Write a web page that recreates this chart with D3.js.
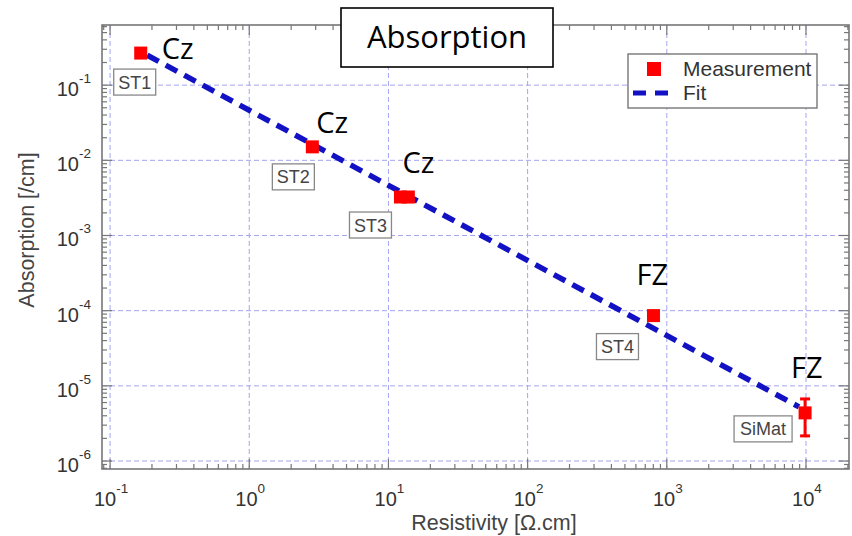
<!DOCTYPE html>
<html>
<head>
<meta charset="utf-8">
<script src="https://cdn.jsdelivr.net/npm/d3@7"></script>
<style>
  html, body { margin: 0; padding: 0; background: #fff; }
  svg { display: block; }
</style>
</head>
<body>
<div id="chart"></div>
<script>
const samples = ["ST1", "ST2", "ST3", "ST3", "ST4", "SiMat"];
const resistivity = [0.166, 2.84, 12.2, 13.9, 802, 9850];
const absorption = [0.267, 0.0151, 0.00325, 0.00325, 8.6e-5, 4.37e-6];
const errLow = [null, null, null, null, null, 2.16e-6];
const errHigh = [null, null, null, null, null, 6.7e-6];

// fit line end points
const fitX = [0.185, 8900];
const fitY = [0.25, 5.26e-6];

// annotations: sample label, growth type
const labelNames = ["ST1", "ST2", "ST3", "ST4", "SiMat"];
const labelPointIdx = [0, 1, 2, 4, 5];
const growth = ["Cz", "Cz", "Cz", "FZ", "FZ"];

const xTickExp = [-1, 0, 1, 2, 3, 4];
const yTickExp = [-6, -5, -4, -3, -2, -1];

// layout offsets for the annotations (pixels relative to the point)
const boxOffset = [[-6, 29], [-19, 30], [-30, 28], [-36, 31], [-42, 16]];
const boxWidth = [42, 42, 42, 42, 58];
const typeOffset = [[21, 6], [4, -14], [2, -24], [-17, -31], [-14, -35]];

const W = 852, H = 536;
const L = 102, R = 849, T = 25, B = 469;

const svg = d3.select("#chart").append("svg")
  .attr("width", W).attr("height", H)
  .style("font-family", "'Liberation Sans', Arial, sans-serif");

svg.append("rect").attr("width", W).attr("height", H).attr("fill", "#fff");

const x = d3.scaleLog().domain([Math.pow(10, -1.058), Math.pow(10, 4.309)]).range([L, R]);
const y = d3.scaleLog().domain([Math.pow(10, -6.106), Math.pow(10, -0.2)]).range([B, T]);

// grid
const grid = svg.append("g")
  .attr("stroke", "#a4a4f2").attr("stroke-width", 1).attr("stroke-dasharray", "5,3");
grid.selectAll(".gx").data(xTickExp).enter().append("line")
  .attr("x1", d => x(Math.pow(10, d))).attr("x2", d => x(Math.pow(10, d)))
  .attr("y1", T).attr("y2", B);
grid.selectAll(".gy").data(yTickExp).enter().append("line")
  .attr("y1", d => y(Math.pow(10, d))).attr("y2", d => y(Math.pow(10, d)))
  .attr("x1", L).attr("x2", R);

// frame + ticks (inward on all sides)
const axisCol = "#777";
svg.append("rect").attr("x", L).attr("y", T).attr("width", R - L).attr("height", B - T)
  .attr("fill", "none").attr("stroke", axisCol).attr("stroke-width", 1.6);

const isMajor = v => Math.abs(Math.log10(v) - Math.round(Math.log10(v))) < 1e-9;
const tk = svg.append("g").attr("stroke", axisCol).attr("stroke-width", 1.2);
const xt = x.ticks().filter(v => x(v) > L + 0.5 && x(v) < R - 0.5);
const yt = y.ticks().filter(v => y(v) < B - 0.5 && y(v) > T + 0.5);
xt.forEach(v => {
  const len = isMajor(v) ? 10 : 5;
  tk.append("line").attr("x1", x(v)).attr("x2", x(v)).attr("y1", B).attr("y2", B - len);
  tk.append("line").attr("x1", x(v)).attr("x2", x(v)).attr("y1", T).attr("y2", T + len);
});
yt.forEach(v => {
  const len = isMajor(v) ? 10 : 5;
  tk.append("line").attr("y1", y(v)).attr("y2", y(v)).attr("x1", L).attr("x2", L + len);
  tk.append("line").attr("y1", y(v)).attr("y2", y(v)).attr("x1", R).attr("x2", R - len);
});

// tick labels 10^n
function pow10Label(sel, e) {
  sel.append("tspan").text("10");
  sel.append("tspan").attr("dy", -13).attr("font-size", 13.5).text(e);
}
xTickExp.forEach(e => {
  const t = svg.append("text").attr("x", x(Math.pow(10, e)) + 1).attr("y", 506)
    .attr("text-anchor", "middle").attr("font-size", 20).attr("fill", "#333");
  pow10Label(t, e);
});
yTickExp.forEach(e => {
  const t = svg.append("text").attr("x", 91).attr("y", y(Math.pow(10, e)) + 11)
    .attr("text-anchor", "end").attr("font-size", 20).attr("fill", "#333");
  pow10Label(t, e);
});

// axis titles
svg.append("text").attr("x", 494).attr("y", 530).attr("text-anchor", "middle")
  .attr("font-size", 21.5).attr("fill", "#444").text("Resistivity [Ω.cm]");
svg.append("text").attr("transform", "translate(34,230) rotate(-90)").attr("text-anchor", "middle")
  .attr("font-size", 21.5).attr("fill", "#444").text("Absorption [/cm]");

// fit line
const line = d3.line().x(d => x(d[0])).y(d => y(d[1]));
svg.append("path").datum(d3.zip(fitX, fitY)).attr("d", line)
  .attr("fill", "none").attr("stroke", "#1212c4").attr("stroke-width", 5.5)
  .attr("stroke-dasharray", "13,8");

// error bars
const ebar = svg.append("g").attr("stroke", "#f00").attr("stroke-width", 3);
resistivity.forEach((r, i) => {
  if (errLow[i] == null) return;
  const cx = x(r);
  ebar.append("line").attr("x1", cx).attr("x2", cx).attr("y1", y(errLow[i])).attr("y2", y(errHigh[i]));
  ebar.append("line").attr("x1", cx - 5).attr("x2", cx + 5).attr("y1", y(errLow[i])).attr("y2", y(errLow[i]));
  ebar.append("line").attr("x1", cx - 5).attr("x2", cx + 5).attr("y1", y(errHigh[i])).attr("y2", y(errHigh[i]));
});

// measurement squares
const sq = 13;
svg.append("g").selectAll("rect").data(d3.range(resistivity.length)).enter().append("rect")
  .attr("x", i => x(resistivity[i]) - sq / 2).attr("y", i => y(absorption[i]) - sq / 2)
  .attr("width", sq).attr("height", sq).attr("fill", "#f00");

// sample label boxes and growth labels
labelNames.forEach((name, k) => {
  const i = labelPointIdx[k];
  const px = x(resistivity[i]), py = y(absorption[i]);
  const cx = px + boxOffset[k][0], cy = py + boxOffset[k][1];
  svg.append("rect").attr("x", cx - boxWidth[k] / 2).attr("y", cy - 13)
    .attr("width", boxWidth[k]).attr("height", 26)
    .attr("fill", "#fff").attr("stroke", "#888").attr("stroke-width", 1.3);
  svg.append("text").attr("x", cx).attr("y", cy + 6.5).attr("text-anchor", "middle")
    .attr("font-size", 18).attr("fill", "#444").text(name);
  svg.append("text").attr("x", px + typeOffset[k][0]).attr("y", py + typeOffset[k][1])
    .attr("font-family", "'Open Sans', 'Noto Sans', sans-serif")
    .attr("font-size", 29).attr("fill", "#000").text(growth[k]);
});

// legend
const lg = svg.append("g");
lg.append("rect").attr("x", 628).attr("y", 54).attr("width", 189).attr("height", 54)
  .attr("fill", "#fff").attr("stroke", "#777").attr("stroke-width", 1.4);
lg.append("rect").attr("x", 647).attr("y", 62).attr("width", 14).attr("height", 14).attr("fill", "#f00");
lg.append("line").attr("x1", 633).attr("x2", 668).attr("y1", 93).attr("y2", 93)
  .attr("stroke", "#1212c4").attr("stroke-width", 5).attr("stroke-dasharray", "13,9");
lg.append("text").attr("x", 683).attr("y", 76).attr("font-size", 21).attr("fill", "#333").text("Measurement");
lg.append("text").attr("x", 683).attr("y", 100).attr("font-size", 21).attr("fill", "#333").text("Fit");

// title box
svg.append("rect").attr("x", 341).attr("y", 8).attr("width", 212).attr("height", 59)
  .attr("fill", "#fff").attr("stroke", "#000").attr("stroke-width", 1.6);
svg.append("text").attr("x", 447).attr("y", 48).attr("text-anchor", "middle")
  .attr("font-family", "'Open Sans', 'Noto Sans', sans-serif")
  .attr("font-size", 31).attr("fill", "#000").text("Absorption");
</script>
</body>
</html>
